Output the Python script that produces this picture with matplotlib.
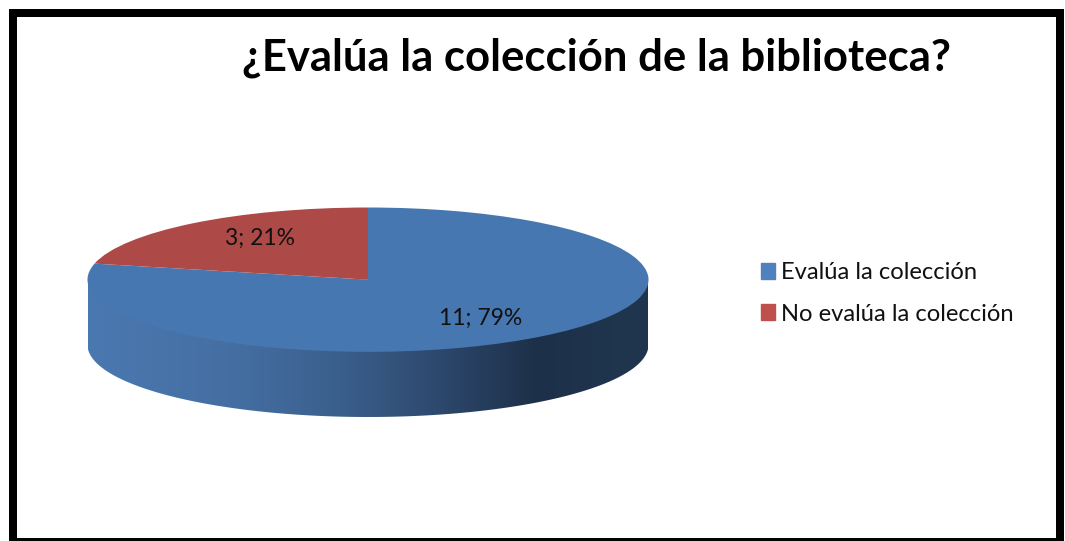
import numpy as np
import matplotlib
matplotlib.use('Agg')
import matplotlib.pyplot as plt
from matplotlib.colors import LinearSegmentedColormap
from matplotlib.patches import Patch, Rectangle, Polygon

# Data
title = '¿Evalúa la colección de la biblioteca?'
categories = ['Evalúa la colección', 'No evalúa la colección']
values = [11, 3]

W, H = 1065, 541
plt.rcParams['font.family'] = ['Lato', 'DejaVu Sans']

fig = plt.figure(figsize=(W / 100, H / 100), dpi=100, facecolor='white')

# Overlay in pixel coordinates for frame and text
page = fig.add_axes([0, 0, 1, 1], zorder=3)
page.set_xlim(0, W)
page.set_ylim(H, 0)
page.axis('off')
page.patch.set_alpha(0)

# Ellipse of the pie top: centre (368, 279.5), radii 280.5 x 72, wall 65 deep
left, right, top, bottom = 87.5, 648.5, 207.5, 417
depth = 65 / 72
pie_ax = fig.add_axes([left / W, 1 - bottom / H, (right - left) / W, (bottom - top) / H])
wedges, _ = pie_ax.pie(values, colors=['#4777b0', '#ad4a47'], startangle=90, counterclock=False)
pie_ax.set_aspect('auto')
pie_ax.axis('off')

# Side wall of the disc with its horizontal shading, runs up under the top face
t = np.linspace(np.pi, 2 * np.pi, 200)
wall_xy = np.c_[np.cos(t), np.sin(t) - depth]
wall_xy = np.r_[[[-1, 0]], wall_xy, [[1, 0]]]
wall_cmap = LinearSegmentedColormap.from_list('wall', [
    (0.0, '#4a78b0'), (0.25, '#456fa3'), (0.45, '#3a5f8c'),
    (0.6, '#2f4c72'), (0.8, '#1d3049'), (1.0, '#20364f')])
img = pie_ax.imshow(np.linspace(0, 1, 256).reshape(1, -1), cmap=wall_cmap, aspect='auto',
                    extent=[-1, 1, -1 - depth, 0], zorder=0)
img.set_clip_path(Polygon(wall_xy, transform=pie_ax.transData))
pie_ax.set_xlim(-1, 1)
pie_ax.set_ylim(-1 - depth, 1)

# Black frame
page.add_patch(Rectangle((13, 13), 1047, 529, fill=False, ec='black', lw=5.76, joinstyle='miter'))

page.text(596.5, 58, title, fontsize=31.4, fontweight='bold', color='black', ha='center', va='center')

total = sum(values)
label_pos = [(481, 318), (260, 238)]
for v, (x, y) in zip(values, label_pos):
    page.text(x, y, f'{v}; {round(100 * v / total)}%', fontsize=16.5, color='#111111', ha='center', va='center')

handles = [Patch(color='#4f81bd'), Patch(color='#c0504d')]
page.legend(handles, categories, loc='center left', bbox_to_anchor=(760.5 / W, 1 - 293.5 / H),
            bbox_transform=fig.transFigure, frameon=False, fontsize=17.1, handlelength=0.63,
            handleheight=0.63, handletextpad=0.25, labelspacing=0.85, borderpad=0, borderaxespad=0,
            labelcolor='#111111')

plt.savefig('out.png', dpi=100)
